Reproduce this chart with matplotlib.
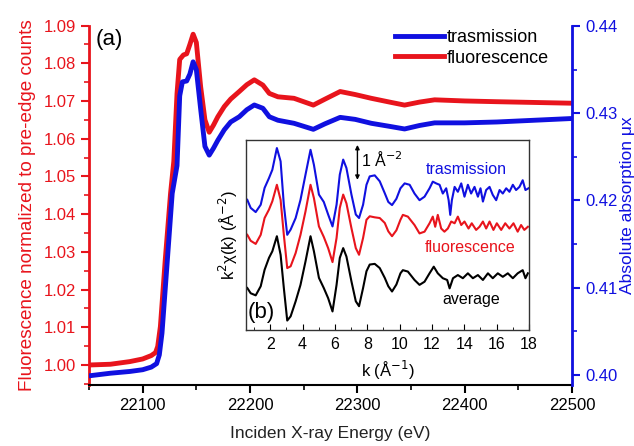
import matplotlib
matplotlib.use("Agg")
import matplotlib.pyplot as plt
from matplotlib.ticker import MultipleLocator, FormatStrFormatter

plt.rcParams['font.family'] = ['Liberation Sans', 'DejaVu Sans']

# main XANES curves
e_fluor = [22050, 22070, 22088, 22100, 22108, 22112, 22114, 22116.5, 22121, 22126, 22129,
           22132, 22134.5, 22138, 22141, 22144, 22147, 22150, 22154, 22158, 22162,
           22166, 22170, 22176, 22182, 22190, 22197, 22204, 22212, 22218, 22226,
           22241, 22259, 22270, 22284, 22298, 22313, 22330, 22344, 22358, 22372,
           22400, 22430, 22465, 22500]
fluor = [1.0000, 1.0002, 1.0009, 1.0016, 1.0025, 1.0033, 1.0049, 1.0102, 1.0278, 1.0456,
         1.0540, 1.0720, 1.0810, 1.0822, 1.0825, 1.0850, 1.0877, 1.0855, 1.0738, 1.0650,
         1.0617, 1.0636, 1.0658, 1.0685, 1.0705, 1.0725, 1.0743, 1.0756, 1.0742, 1.0720,
         1.0711, 1.0707, 1.0689, 1.0705, 1.0725, 1.0717, 1.0707, 1.0697, 1.0689, 1.0697,
         1.0703, 1.0700, 1.0698, 1.0696, 1.0694]

e_trans = [22050, 22070, 22088, 22100, 22108, 22113, 22115.5, 22118, 22123, 22127.5, 22132,
           22134.5, 22137, 22141, 22144, 22147, 22150, 22154, 22158, 22162, 22166,
           22170, 22176, 22182, 22190, 22197, 22204, 22212, 22218, 22226, 22241,
           22259, 22270, 22284, 22298, 22313, 22330, 22344, 22358, 22372, 22400,
           22430, 22465, 22500]
trans = [0.3999, 0.4002, 0.4004, 0.4006, 0.4009, 0.4013, 0.4023, 0.4048, 0.4132, 0.4208,
         0.4240, 0.4320, 0.4336, 0.4337, 0.4345, 0.4359, 0.4350, 0.4305, 0.4262, 0.4252,
         0.4260, 0.4269, 0.4281, 0.4290, 0.4296, 0.4304, 0.43095, 0.43057, 0.4296, 0.4292,
         0.42885, 0.42816, 0.4288, 0.42953, 0.4293, 0.42885, 0.4285, 0.4282, 0.4286, 0.4289,
         0.4289, 0.4290, 0.4292, 0.4294]

# inset EXAFS, k^2 chi(k) in A^-2, vertical offsets included
k_low = [0.58, 0.79, 1.10, 1.41, 1.65, 1.92, 2.13, 2.41, 2.64, 2.84, 3.05, 3.26, 3.57,
         3.87, 4.18, 4.49, 4.70, 5.01, 5.31, 5.58, 5.85, 6.10, 6.30, 6.51, 6.71, 7.02,
         7.29, 7.49, 7.74, 7.95, 8.15, 8.46, 8.77, 9.08, 9.3, 9.53, 9.8, 10.05]
trans_low = [3.72, 3.49, 3.37, 3.58, 4.06, 4.34, 4.58, 5.20, 4.82, 3.58, 2.72, 2.87, 3.20,
             3.72, 4.44, 5.15, 4.72, 3.87, 3.66, 3.30, 2.96, 3.58, 4.44, 4.87, 4.63, 3.87,
             3.30, 3.20, 3.58, 4.15, 4.39, 4.42, 4.25, 3.91, 3.66, 3.57, 3.75, 4.05]
fluor_low = [2.72, 2.55, 2.46, 2.72, 3.20, 3.44, 3.68, 4.15, 3.72, 2.72, 1.77, 1.82, 2.20,
             2.72, 3.39, 4.15, 3.77, 2.96, 2.66, 2.34, 1.94, 2.63, 3.49, 3.87, 3.62, 2.91,
             2.34, 2.15, 2.63, 3.15, 3.25, 3.22, 3.20, 3.06, 2.82, 2.68, 2.85, 3.15]
avg_low = [1.20, 1.05, 0.99, 1.25, 1.72, 2.06, 2.25, 2.68, 2.15, 1.20, 0.27, 0.39, 0.82,
           1.29, 1.96, 2.68, 2.25, 1.49, 1.20, 0.91, 0.53, 1.29, 2.06, 2.34, 2.10, 1.39,
           0.82, 0.68, 1.20, 1.68, 1.87, 1.89, 1.77, 1.49, 1.25, 1.10, 1.30, 1.62]

k_trans_hi = [10.31, 10.62, 10.92, 11.23, 11.54, 11.85, 12.05, 12.26, 12.47, 12.67, 12.88,
              13.03, 13.13, 13.23, 13.40, 13.60, 13.81, 14.01, 14.22, 14.42, 14.63, 14.84,
              15.0, 15.15, 15.35, 15.56, 15.76, 15.97, 16.18, 16.38, 16.59, 16.79, 17.0,
              17.2, 17.41, 17.61, 17.78, 17.97]
trans_hi = [4.19, 4.15, 3.90, 3.71, 3.81, 4.05, 4.24, 4.19, 4.15, 3.90, 4.05,
            3.71, 3.29, 3.71, 4.09, 3.95, 4.19, 3.81, 4.15, 3.90, 4.09, 3.81,
            4.05, 3.67, 4.00, 4.09, 3.86, 3.71, 4.00, 3.90, 4.05, 3.95, 4.15,
            4.00, 4.09, 4.28, 4.00, 4.05]
k_fluor_hi = [10.2, 10.51, 10.92, 11.23, 11.54, 11.85, 12.05, 12.2, 12.36, 12.57, 12.77,
              12.98, 13.19, 13.4, 13.6, 13.81, 14.01, 14.26, 14.46, 14.73, 14.94, 15.15,
              15.35, 15.56, 15.8, 16.01, 16.28, 16.53, 16.79, 17.04, 17.3, 17.51, 17.71,
              17.93]
fluor_hi = [3.29, 3.24, 3.00, 2.76, 2.81, 3.05, 3.24, 2.95, 3.29, 2.90, 2.81,
            2.90, 3.10, 3.05, 3.24, 3.00, 3.10, 2.90, 3.05, 2.86, 2.95, 3.10,
            2.90, 3.10, 2.86, 3.05, 2.86, 3.05, 2.90, 3.05, 2.81, 3.00, 2.86,
            2.95]
k_avg_hi = [10.2, 10.51, 10.92, 11.23, 11.54, 11.85, 12.11, 12.36, 12.67, 12.94, 13.09,
            13.3, 13.6, 13.91, 14.22, 14.53, 14.84, 15.15, 15.46, 15.76, 16.07, 16.38,
            16.69, 17.0, 17.3, 17.61, 17.78, 17.93]
avg_hi = [1.71, 1.67, 1.43, 1.29, 1.38, 1.62, 1.81, 1.62, 1.48, 1.43, 1.19,
          1.48, 1.57, 1.48, 1.62, 1.48, 1.57, 1.43, 1.62, 1.48, 1.62, 1.52,
          1.62, 1.48, 1.62, 1.71, 1.48, 1.62]

RED = '#e8141c'
BLUE = '#1010e0'

fig = plt.figure(figsize=(6.34, 4.46), dpi=100)
ax = fig.add_axes([0.1404, 0.1368, 0.7618, 0.806])
ax2 = ax.twinx()

l_f, = ax.plot(e_fluor, fluor, color=RED, lw=3.5, label='fluorescence',
               solid_joinstyle='round')
l_t, = ax2.plot(e_trans, trans, color=BLUE, lw=3.5, label='trasmission',
                solid_joinstyle='round')

ax.set_xlim(22050, 22500)
ax.set_ylim(0.9947, 1.09)
ax2.set_ylim(0.39885, 0.44006)

ax.xaxis.set_major_locator(MultipleLocator(100))
ax.xaxis.set_minor_locator(MultipleLocator(50))
ax.yaxis.set_major_locator(MultipleLocator(0.01))
ax.yaxis.set_minor_locator(MultipleLocator(0.005))
ax.yaxis.set_major_formatter(FormatStrFormatter('%.2f'))
ax2.yaxis.set_major_locator(MultipleLocator(0.01))
ax2.yaxis.set_minor_locator(MultipleLocator(0.005))
ax2.yaxis.set_major_formatter(FormatStrFormatter('%.2f'))

for a in (ax, ax2):
    a.spines['top'].set_visible(False)
ax.spines['left'].set_color(RED)
ax.spines['left'].set_linewidth(2)
ax.spines['bottom'].set_linewidth(1.5)
ax2.spines['right'].set_color(BLUE)
ax2.spines['right'].set_linewidth(2)
ax2.spines['left'].set_visible(False)
ax2.spines['bottom'].set_visible(False)

ax.tick_params(axis='x', which='major', length=6, width=1.5, labelsize=12, direction='out')
ax.tick_params(axis='x', which='minor', length=3.5, width=1.2, direction='out')
ax.tick_params(axis='y', which='major', length=6, width=1.5, labelsize=12,
               colors=RED, direction='out')
ax.tick_params(axis='y', which='minor', length=3.5, width=1.2, colors=RED, direction='out')
ax2.tick_params(axis='y', which='major', length=6, width=1.5, labelsize=12,
                colors=BLUE, direction='out')
ax2.tick_params(axis='y', which='minor', length=3.5, width=1.2, colors=BLUE, direction='out')

ax.set_xlabel('Inciden X-ray Energy (eV)', fontsize=12.5, color='#222222', labelpad=9)
ax.set_ylabel('Fluorescence normalized to pre-edge counts', fontsize=13.6, color=RED,
              labelpad=5)
ax2.set_ylabel('Absolute absorption μx', fontsize=12.5, color=BLUE, labelpad=2)

ax.text(0.014, 0.99, '(a)', transform=ax.transAxes, fontsize=16, va='top', ha='left')

ax2.legend(handles=[l_t, l_f], loc='upper right', bbox_to_anchor=(0.985, 1.035),
           frameon=False, fontsize=13, handlelength=2.7, handletextpad=0.15,
           labelspacing=0.2)

# inset (b)
ins = fig.add_axes([0.388, 0.2601, 0.4464, 0.426])
ins.plot(k_low + k_trans_hi, trans_low + trans_hi, color=BLUE, lw=1.5)
ins.plot(k_low + k_fluor_hi, fluor_low + fluor_hi, color=RED, lw=1.5)
ins.plot(k_low + k_avg_hi, avg_low + avg_hi, color='black', lw=1.5)
ins.set_xlim(0.5, 18)
ins.set_ylim(0, 5.43)
ins.set_yticks([])
ins.xaxis.set_minor_locator(MultipleLocator(1))
ins.set_xticks([2, 4, 6, 8, 10, 12, 14, 16, 18])
ins.tick_params(axis='x', which='major', direction='in', length=4, labelsize=11.5, pad=5)
ins.tick_params(axis='x', which='minor', direction='in', length=2.5)
for s in ins.spines.values():
    s.set_color('#333333')
    s.set_linewidth(1)
ins.set_xlabel('k (Å$^{-1}$)', fontsize=12, labelpad=5)
ins.set_ylabel('k$^2$χ(k) (Å$^{-2}$)', fontsize=12, labelpad=4)

ins.text(14.15, 4.6, 'trasmission', color=BLUE, fontsize=11.5, ha='center', va='center')
ins.text(14.35, 2.37, 'fluorescence', color=RED, fontsize=11.5, ha='center', va='center')
ins.text(14.4, 0.86, 'average', color='black', fontsize=11.5, ha='center', va='center')
ins.text(0.6, 0.5, '(b)', fontsize=16, ha='left', va='center')
ins.annotate('', xy=(7.39, 5.29), xytext=(7.39, 4.29),
             arrowprops=dict(arrowstyle='<|-|>', color='black', lw=1, mutation_scale=6,
                             shrinkA=0, shrinkB=0))
ins.text(7.62, 4.86, '1 Å$^{-2}$', fontsize=11.5, ha='left', va='center')

fig.savefig('out.png', dpi=100)
